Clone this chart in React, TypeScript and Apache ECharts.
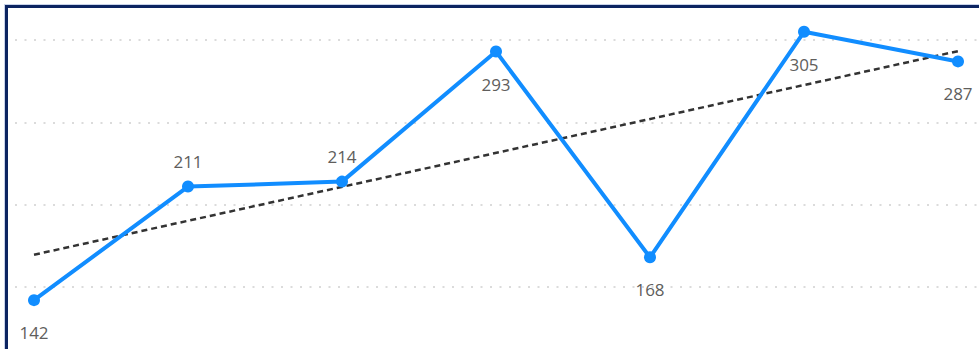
import React, { useEffect, useRef } from "react";
import * as echarts from "echarts";

const categories = ["P1", "P2", "P3", "P4", "P5", "P6", "P7"];
const values = [142, 211, 214, 293, 168, 305, 287];
const gridValues = [150, 200, 250, 300];
const labelAbove = [false, true, true, false, false, false, false];

export default function App() {
  const ref = useRef<HTMLDivElement>(null);
  useEffect(() => {
    document.body.style.margin = "0";
    const chart = echarts.init(ref.current!, null, { renderer: "svg" });
    const n = values.length;
    const mx = (n - 1) / 2;
    const my = values.reduce((a, b) => a + b, 0) / n;
    let sxy = 0;
    let sxx = 0;
    values.forEach((v, i) => {
      sxy += (i - mx) * (v - my);
      sxx += (i - mx) * (i - mx);
    });
    const slope = sxy / sxx;
    const icpt = my - slope * mx;
    const trend = [
      [0, icpt],
      [n - 1, icpt + slope * (n - 1)],
    ];
    const blue = "#118DFF";
    chart.setOption({
      animation: false,
      backgroundColor: "#ffffff",
      grid: { left: 15, right: 2, top: 0, bottom: 0, outerBoundsMode: "none" },
      xAxis: { type: "value", min: -0.1234, max: 6.1234, show: false },
      yAxis: { type: "value", min: 112.35, max: 324.3, show: false },
      series: [
        {
          type: "line",
          name: "grid",
          data: [],
          z: 0,
          markLine: {
            silent: true,
            z: 0,
            symbol: "none",
            label: { show: false },
            lineStyle: { color: "#cfcfcf", type: [2, 7.5], width: 1.5 },
            data: gridValues.map((v) => ({ yAxis: v })),
          },
        },
        {
          type: "line",
          name: "trend",
          data: trend,
          symbol: "none",
          silent: true,
          z: 2,
          lineStyle: { color: "#333333", width: 2.5, type: [6, 4] },
        },
        {
          type: "line",
          name: "value",
          z: 3,
          data: values.map((v, i) => ({
            name: categories[i],
            value: [i, v],
            label: {
              position: labelAbove[i] ? "top" : "bottom",
              distance: labelAbove[i] ? 11 : 18,
            },
          })),
          symbol: "circle",
          symbolSize: 12,
          itemStyle: { color: blue },
          lineStyle: { color: blue, width: 4 },
          label: {
            show: true,
            color: "#605e5c",
            fontSize: 17,
            fontFamily: "'Segoe UI', 'Open Sans', sans-serif",
            formatter: (p: any) => String(p.value[1]),
          },
        },
      ],
    });
    return () => chart.dispose();
  }, []);
  return (
    <>
      <div
        ref={ref}
        style={{ position: "fixed", left: 0, top: 0, width: 979, height: 349 }}
      />
      <div
        style={{
          position: "fixed",
          left: 5,
          top: 5,
          width: 1100,
          height: 500,
          borderLeft: "3px solid #0c2461",
          borderTop: "3px solid #0c2461",
          boxShadow: "-1px -1px 0 #c9d3ea",
          pointerEvents: "none",
        }}
      />
    </>
  );
}
